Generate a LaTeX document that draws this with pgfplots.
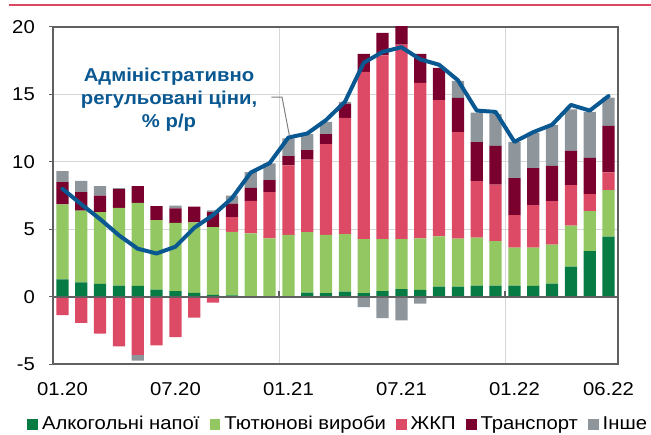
\documentclass[border=0pt]{standalone}
\usepackage{pgfplots}
\usepackage{pgfplotstable}
\pgfplotsset{compat=1.18}
\usepackage{fontspec}
\setmainfont{Liberation Sans}[FakeStretch=1.09]

\definecolor{alc}{RGB}{6,124,68}
\definecolor{tob}{RGB}{146,199,98}
\definecolor{zhkp}{RGB}{221,74,101}
\definecolor{trans}{RGB}{122,0,46}
\definecolor{oth}{RGB}{142,150,156}
\definecolor{lineblue}{RGB}{9,88,145}
\definecolor{axgray}{RGB}{96,96,96}
\definecolor{gridgray}{RGB}{215,215,215}
\definecolor{rulered}{RGB}{220,72,98}

\pgfplotstableread{
x alc tob zhkp trans oth
0 1.28 5.56 0 1.65 0.82
1 1.06 5.31 0 1.38 0.84
2 0.94 5.33 0 1.23 0.70
3 0.81 5.78 0 1.39 0.07
4 0.79 6.17 0 1.24 0
5 0.52 5.16 0 1.04 0
6 0.40 5.06 0 1.08 0.20
7 0.27 5.23 0 1.17 0
8 0.13 5.03 0 1.11 0.13
9 0.10 4.71 1.09 0.99 0.61
10 0 4.69 2.42 0.96 1.16
11 0 4.32 3.43 0.89 1.24
12 0 4.57 5.16 0.69 1.31
13 0.30 4.49 5.38 0.69 1.19
14 0.26 4.31 6.74 0.74 0.91
15 0.36 4.28 8.62 1.06 0.12
16 0.26 4.01 12.40 1.33 0
17 0.41 3.86 13.63 1.66 0
18 0.56 3.71 14.43 1.90 0
19 0.49 3.83 11.53 2.15 0
20 0.74 3.72 10.11 2.39 0
21 0.74 3.57 7.89 2.54 1.26
22 0.81 3.56 4.20 2.89 2.19
23 0.81 3.31 4.18 2.89 2.34
24 0.81 2.82 2.42 2.74 2.69
25 0.80 2.83 3.16 2.74 2.62
26 0.96 2.89 3.24 2.61 3.02
27 2.22 3.04 3.01 2.54 3.07
28 3.38 2.97 1.25 2.70 3.40
29 4.44 3.46 1.31 3.46 2.10
}\posdata

\pgfplotstableread{
x zhkp oth
0 -1.37 0
1 -1.95 0
2 -2.75 0
3 -3.70 0
4 -4.32 -0.43
5 -3.62 0
6 -3.00 0
7 -1.56 0
8 -0.44 0
9 0 0
10 0 0
11 0 0
12 0 0
13 0 0
14 0 0
15 0 0
16 0 -0.79
17 0 -1.60
18 0 -1.76
19 0 -0.53
20 0 0
21 0 0
22 0 0
23 0 0
24 0 0
25 0 0
26 0 0
27 0 0
28 0 0
29 0 0
}\negdata

\pgfplotstableread{
x v
0 8.0
1 6.85
2 5.75
3 4.55
4 3.55
5 3.2
6 3.7
7 5.1
8 6.05
9 7.3
10 9.2
11 9.9
12 11.8
13 12.1
14 13.1
15 14.45
16 17.35
17 18.15
18 18.5
19 17.6
20 17.2
21 16.05
22 13.8
23 13.7
24 11.48
25 12.2
26 12.75
27 14.22
28 13.8
29 14.88
}\linedata

\newcommand{\fs}{\fontsize{18.6bp}{23.3bp}\selectfont}

\pgfplotsset{
  mybase/.style={
    scale only axis, width=565bp, height=337bp,
    xmin=-0.5, xmax=29.5, ymin=-5, ymax=20,
    at={(0,0)}, anchor=south west,
  },
}

\begin{document}
\begin{tikzpicture}
\useasboundingbox (-53bp,-71bp) rectangle (598bp,364bp);
\draw[rulered, line width=2bp] (-44bp,359bp) -- (598bp,359bp);

% layer 1: grid + negative bars
\begin{axis}[mybase,
  axis line style={draw=none},
  ytick={5,10,15}, yticklabels={},
  xtick={11.5,23.5}, xticklabels={},
  major tick length=0pt,
  ymajorgrids, xmajorgrids,
  major grid style={gridgray, line width=0.9bp},
  ybar stacked, bar width=0.65,
]
\addplot[fill=zhkp, draw=none] table[x=x,y=zhkp]{\negdata};
\addplot[fill=oth, draw=none] table[x=x,y=oth]{\negdata};
\end{axis}

% layer 2: positive bars, frame, ticks, legend
\begin{axis}[mybase,
  axis line style={axgray, line width=1.5bp},
  ytick={-5,0,5,10,15,20},
  yticklabels={-5,0,5,10,15,20},
  ytick pos=left,
  ytick style={axgray, line width=1bp},
  tick align=outside,
  major tick length=4bp,
  xtick={0,6,12,18,24,29},
  xticklabels={01.20,07.20,01.21,07.21,01.22,06.22},
  xtick style={draw=none},
  yticklabel style={font=\fs, inner sep=0pt, anchor=east, xshift=-14bp},
  xticklabel style={font=\fs, inner sep=0pt, anchor=north, yshift=-14bp},
  ybar stacked, bar width=0.65,
  legend columns=-1,
  legend image code/.code={\fill[#1] (0bp,-6bp) rectangle (10.7bp,4.7bp);},
  legend style={draw=none, fill=none, font=\fs,
    at={(0.503,-0.1766)}, anchor=center,
    column sep=0pt,
    nodes={inner sep=0pt},
    /tikz/every odd column/.append style={column sep=4bp},
    /tikz/every even column/.append style={column sep=10bp}},
]
\addplot[fill=alc, draw=none] table[x=x,y=alc]{\posdata};
\addlegendentry{Алкогольні напої}
\addplot[fill=tob, draw=none] table[x=x,y=tob]{\posdata};
\addlegendentry{Тютюнові вироби}
\addplot[fill=zhkp, draw=none] table[x=x,y=zhkp]{\posdata};
\addlegendentry{ЖКП}
\addplot[fill=trans, draw=none] table[x=x,y=trans]{\posdata};
\addlegendentry{Транспорт}
\addplot[fill=oth, draw=none] table[x=x,y=oth]{\posdata};
\addlegendentry{Інше}
\end{axis}

% layer 3: zero line, index line, annotation
\begin{axis}[mybase, hide axis]
\addplot[axgray, line width=2bp] coordinates {(-0.5,0) (29.5,0)};
\addplot[axgray, line width=1.5bp] coordinates {(11.5,0) (11.5,0.45)};
\addplot[axgray, line width=1.5bp] coordinates {(23.5,0) (23.5,0.45)};
\addplot[lineblue, line width=4bp, line join=round, line cap=round] table[x=x,y=v]{\linedata};
\draw[gray, line width=1bp] (axis cs:11.1,14.8) -- (axis cs:11.66,14.8) -- (axis cs:12.05,11.95);
\node[font=\bfseries\fs, text=lineblue, align=center] at (axis cs:5.66,14.6)
  {Адміністративно\\регульовані ціни,\\\% р/р};
\end{axis}
\end{tikzpicture}
\end{document}
